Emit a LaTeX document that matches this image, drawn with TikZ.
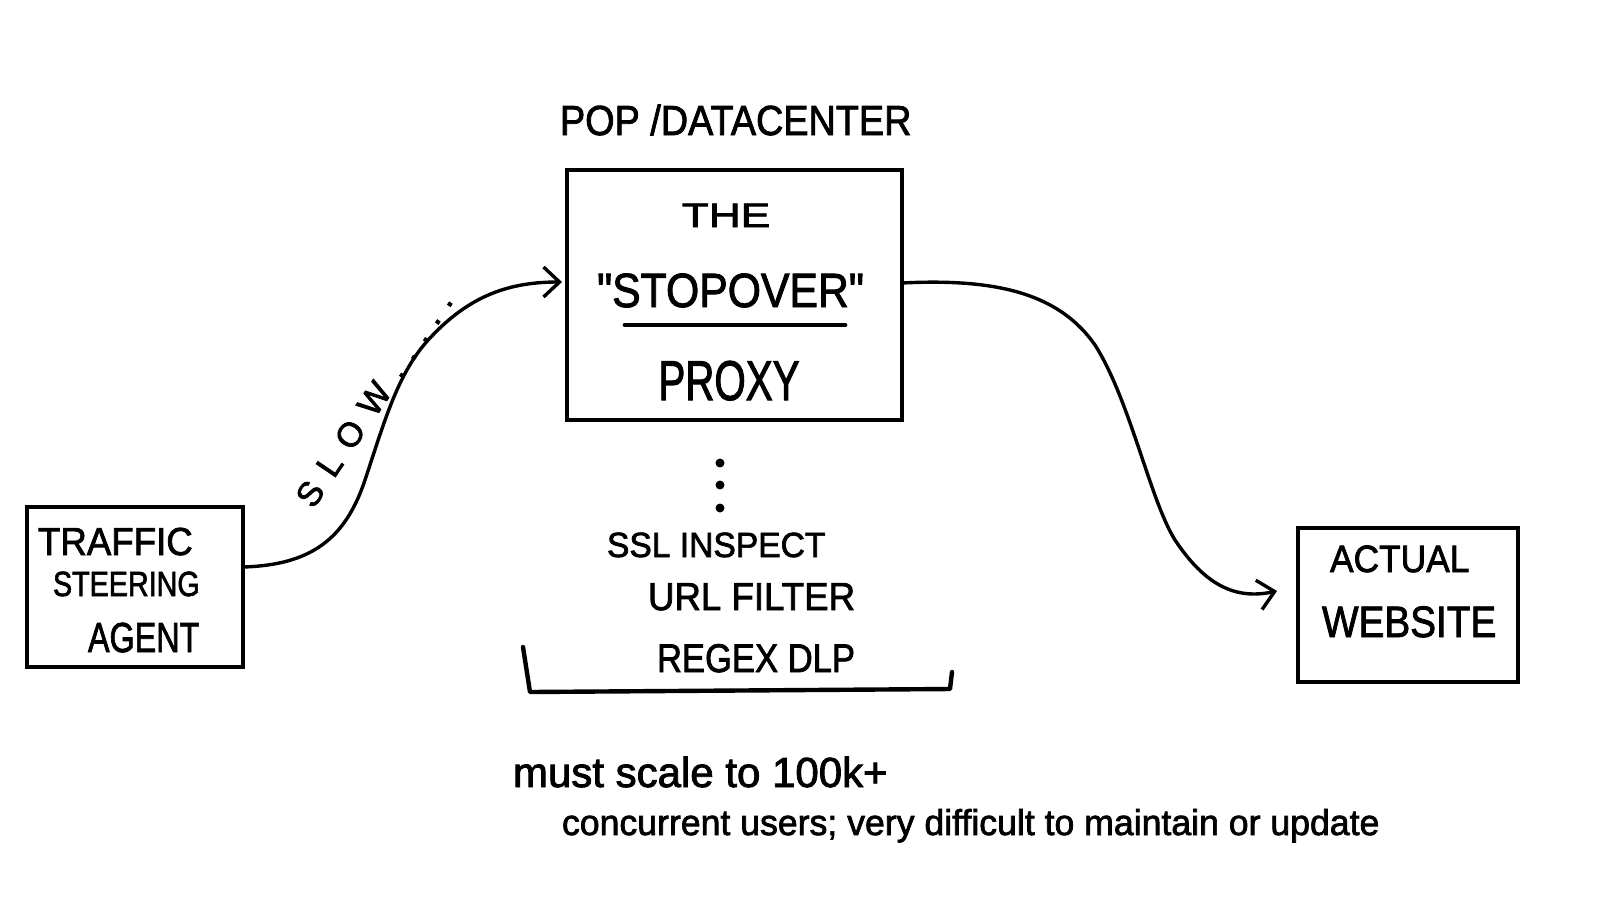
\documentclass[tikz,border=0pt]{standalone}
\usepackage{fontspec}
\setmainfont{Liberation Sans}[FakeBold=2]
\usepackage{graphicx}
\usetikzlibrary{arrows.meta}
\newcommand{\fs}[1]{\fontsize{#1}{#1}\selectfont}
\font\qfont="Liberation Sans:embolden=2" at 24pt
\begin{document}
\begin{tikzpicture}[x=0.5pt,y=-0.5pt,
  box/.style={draw, line width=2.2pt, inner sep=0pt, outer sep=0pt, rectangle},
  conn/.style={line width=1.7pt, line cap=round, line join=round,
    -{Straight Barb[length=8pt,width=15pt,line width=1.7pt]}},
  lbl/.style={inner sep=0pt, outer sep=0pt, anchor=base west},
  lblc/.style={inner sep=0pt, outer sep=0pt, anchor=base},
  dotn/.style={circle, fill, inner sep=0pt, minimum size=4.5pt}]
\fill[white] (0,0) rectangle (1600,922);
\useasboundingbox (0,0) rectangle (1600,922);

% boxes
\node[box, minimum width=108pt, minimum height=80pt] (agent) at (135,587) {};
\node[box, minimum width=167.5pt, minimum height=125pt] (proxy) at (734.5,295) {};
\node[box, minimum width=110pt, minimum height=77pt] (site) at (1408,605) {};

% agent text
\node[lbl, font=\fs{19.5}] (t1) at (38,555) {\scalebox{0.94}[1]{TRAFFIC}};
\node[lbl, font=\fs{17.5}] (t2) at (53,596) {\scalebox{0.82}[1]{STEERING}};
\node[lbl, font=\fs{21}] (t3) at (88,652) {\scalebox{0.77}[1]{AGENT}};

% proxy text
\node[lbl, font=\fs{21}] (pop) at (560,135) {\scalebox{0.9}[1]{POP /DATACENTER}};
\node[lblc, font=\fs{17}] (the) at (726,227) {\scalebox{1.3}[1]{THE}};
\node[lblc, font=\fs{24}] (stop) at (730.5,307) {\scalebox{0.89}[1]{{\qfont"}STOPOVER{\qfont"}}};
\draw[line width=2.4pt, line cap=round] (625,325) -- (845,325);
\node[lblc, font=\fs{28}] (prx) at (729,400) {\scalebox{0.72}[1]{PROXY}};

% website text
\node[lbl, font=\fs{19}] (w1) at (1330,572) {\scalebox{0.93}[1]{ACTUAL}};
\node[lbl, font=\fs{22}] (w2) at (1322,637) {\scalebox{0.88}[1]{WEBSITE}};

% dots and feature list
\node[dotn] (d1) at (720,463) {};
\node[dotn] (d2) at (720,485) {};
\node[dotn] (d3) at (720,508) {};
\node[lbl, font=\fs{17.5}] (f1) at (607,557) {\scalebox{0.96}[1]{SSL INSPECT}};
\node[lbl, font=\fs{19.5}] (f2) at (648,610) {\scalebox{0.94}[1]{URL FILTER}};
\node[lbl, font=\fs{20}] (f3) at (657,672) {\scalebox{0.865}[1]{REGEX DLP}};
\draw[line width=2.2pt, line join=round, line cap=round] (523,647) -- (530,692) -- (950,689) -- (952,672);

% note
\node[lbl, font=\fs{21}] (n1) at (513,787) {must scale to 100k+};
\node[lbl, font=\fs{18}] (n2) at (562,835) {\scalebox{0.99}[1]{concurrent users; very difficult to maintain or update}};

% connectors
\draw[conn] ([yshift=10pt]agent.east) .. controls (310,565) and (345,540) .. (365,480)
  .. controls (385,420) and (398,372) .. (430,338)
  .. controls (470,295) and (510,282) .. ([xshift=-2.5pt,yshift=6.5pt]proxy.west);
\draw[conn] ([yshift=6pt]proxy.east) .. controls (1000,278) and (1060,295) .. (1095,345)
  .. controls (1130,400) and (1150,500) .. (1175,540)
  .. controls (1205,585) and (1235,600) .. ([xshift=-10.5pt,yshift=7pt]site.west);

\node[inner sep=0pt, rotate=56, font=\fs{17}] (slow) at (374,399)
  {S\kern7pt L\kern7pt O\kern7pt W\kern7pt .\kern6pt .\kern6pt .\kern6pt .\kern6pt .};
\end{tikzpicture}
\end{document}
